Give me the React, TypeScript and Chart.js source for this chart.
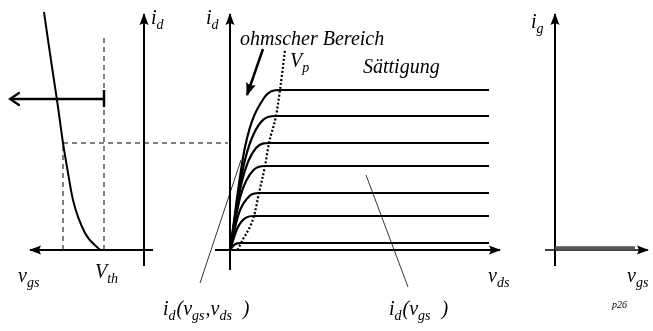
import React, { useEffect, useRef } from 'react';
import { Chart, registerables } from 'chart.js';

Chart.register(...registerables);

// ---- Transfer characteristic i_d(v_gs) (left panel, v_gs grows to the left) ----
const transferVgs = [2.2, 2.95, 3.55, 3.85, 4.05, 4.35, 4.6, 4.85, 5.0];
const transferId = [0, 0.85, 2.5, 4.15, 5.35, 7.5, 9.15, 10.85, 11.9];
const thresholdVoltage = 2.0;
const operatingVgs = 4.05;

// ---- Output characteristic family i_d(v_ds) (middle panel) ----
const satCurrents = [8.0, 6.7, 5.35, 4.2, 2.85, 1.7, 0.35];
const kneeVds = [5.0, 4.6, 3.9, 3.5, 2.9, 2.4, 1.1];
// two sample points of each curve inside the ohmic region
const ohmicLowVds = [1.5, 1.4, 1.2, 1.05, 0.9, 0.75, 0.35];
const ohmicLowId = [5.15, 4.3, 3.45, 2.7, 1.85, 1.1, 0.23];
const ohmicHighVds = [3.4, 3.1, 2.6, 2.35, 1.95, 1.6, 0.7];
const ohmicHighId = [7.6, 6.4, 5.1, 4.0, 2.7, 1.62, 0.33];
const satEndVds = 25.9;
// pinch-off boundary v_ds = v_gs - V_th, running through the knees
const pinchOffVds = [0.75, 1.1, 2.4, 2.9, 3.5, 3.9, 4.6, 5.0, 5.5];
const pinchOffId = [0, 0.35, 1.7, 2.85, 4.2, 5.35, 6.7, 8.0, 10.0];
const operatingCurve = 2;

// ---- Input characteristic i_g(v_gs) (right panel) ----
const gateVgs = [0, 4.0];
const gateCurrent = [0.1, 0.1];

type Run = { t: string; sub?: boolean };
type Label = { xs: string; x: number; y: number; runs: Run[]; size?: number };

const sub = (t: string): Run => ({ t, sub: true });
const txt = (t: string): Run => ({ t });

const labels: Label[] = [
  { xs: 'xL', x: -0.35, y: 11.3, runs: [txt('i'), sub('d')] },
  { xs: 'xL', x: 6.3, y: -1.6, runs: [txt('v'), sub('gs')] },
  { xs: 'xL', x: 2.45, y: -1.4, runs: [txt('V'), sub('th')] },
  { xs: 'xM', x: -2.4, y: 11.3, runs: [txt('i'), sub('d')] },
  { xs: 'xM', x: 1.0, y: 10.25, runs: [txt('ohmscher Bereich')] },
  { xs: 'xM', x: 6.0, y: 9.15, runs: [txt('V'), sub('p')] },
  { xs: 'xM', x: 13.3, y: 8.85, runs: [txt('Sättigung')] },
  { xs: 'xM', x: 25.8, y: -1.6, runs: [txt('v'), sub('ds')] },
  {
    xs: 'xM', x: -6.7, y: -3.25,
    runs: [txt('i'), sub('d'), txt('('), txt('v'), sub('gs'), txt(','), txt('v'), sub('ds'), txt('  )')],
  },
  { xs: 'xM', x: 15.9, y: -3.25, runs: [txt('i'), sub('d'), txt('('), txt('v'), sub('gs'), txt('  )')] },
  { xs: 'xR', x: -1.2, y: 11.1, runs: [txt('i'), sub('g')] },
  { xs: 'xR', x: 3.6, y: -1.6, runs: [txt('v'), sub('gs')] },
  { xs: 'xR', x: 2.85, y: -2.9, runs: [txt('p26')], size: 10 },
];

const FONT = '"Liberation Serif", "DejaVu Serif", serif';

const pts = (xs: number[], ys: number[]) => xs.map((x, i) => ({ x, y: ys[i] }));

// arrow heads at the last point of flagged datasets
const arrowPlugin = {
  id: 'arrowHeads',
  afterDatasetsDraw(chart: any) {
    const ctx = chart.ctx as CanvasRenderingContext2D;
    chart.data.datasets.forEach((ds: any, i: number) => {
      if (!ds.arrow) return;
      const meta = chart.getDatasetMeta(i);
      const n = meta.data.length;
      const tip = meta.data[n - 1];
      const prev = meta.data[n - 2];
      const a = Math.atan2(tip.y - prev.y, tip.x - prev.x);
      ctx.save();
      ctx.translate(tip.x, tip.y);
      ctx.rotate(a);
      ctx.fillStyle = '#000';
      ctx.strokeStyle = '#000';
      if (ds.arrow === 'open') {
        ctx.lineWidth = 2.2;
        ctx.lineCap = 'round';
        ctx.beginPath();
        ctx.moveTo(-9, -6);
        ctx.lineTo(0, 0);
        ctx.lineTo(-9, 6);
        ctx.stroke();
      } else {
        const len = ds.arrowLen || 11;
        const w = ds.arrowWidth || 4.5;
        ctx.beginPath();
        ctx.moveTo(1, 0);
        ctx.lineTo(-len, -w);
        ctx.lineTo(-len + 2, 0);
        ctx.lineTo(-len, w);
        ctx.closePath();
        ctx.fill();
      }
      ctx.restore();
    });
  },
};

// italic labels with subscripts, anchored in data coordinates
const labelPlugin = {
  id: 'richLabels',
  afterDraw(chart: any) {
    const ctx = chart.ctx as CanvasRenderingContext2D;
    const yScale = chart.scales.yI;
    ctx.save();
    ctx.fillStyle = '#000';
    ctx.textBaseline = 'alphabetic';
    ctx.textAlign = 'left';
    labels.forEach((l) => {
      let px = chart.scales[l.xs].getPixelForValue(l.x);
      const py = yScale.getPixelForValue(l.y);
      const main = l.size || 20;
      l.runs.forEach((r) => {
        const size = r.sub ? Math.round(main * 0.72) : main;
        ctx.font = `italic ${size}px ${FONT}`;
        ctx.fillText(r.t, px, py + (r.sub ? 5 : 0));
        px += ctx.measureText(r.t).width + (r.sub ? 1 : 0);
      });
    });
    ctx.restore();
  },
};

const line = (data: any[], xAxisID: string, extra: any = {}) => ({
  data,
  xAxisID,
  yAxisID: 'yI',
  showLine: true,
  borderColor: '#000',
  borderWidth: 2,
  pointRadius: 0,
  fill: false,
  ...extra,
});

export default function App() {
  const canvasRef = useRef<HTMLCanvasElement>(null);

  useEffect(() => {
    if (!canvasRef.current) return;
    const dashed = { borderWidth: 1, borderDash: [5, 4] };
    const satId = satCurrents[operatingCurve];

    const outputCurves = satCurrents.map((I, k) =>
      line(
        [
          { x: 0, y: 0 },
          { x: ohmicLowVds[k], y: ohmicLowId[k] },
          { x: ohmicHighVds[k], y: ohmicHighId[k] },
          { x: kneeVds[k], y: I },
          { x: satEndVds, y: I },
        ],
        'xM',
        { cubicInterpolationMode: 'monotone', borderWidth: 2.2 }
      )
    );

    const gateLine = pts(gateVgs, gateCurrent);

    const datasets: any[] = [
      // left panel
      line([{ x: -0.45, y: 0 }, { x: 5.7, y: 0 }], 'xL', { arrow: 'filled' }),
      line([{ x: 0, y: -0.8 }, { x: 0, y: 11.8 }], 'xL', { arrow: 'filled' }),
      line(pts(transferVgs, transferId), 'xL', { cubicInterpolationMode: 'monotone', borderWidth: 2 }),
      line([{ x: thresholdVoltage, y: 0 }, { x: thresholdVoltage, y: 10.75 }], 'xL', dashed),
      line([{ x: operatingVgs, y: 0 }, { x: operatingVgs, y: satId }], 'xL', dashed),
      line([{ x: operatingVgs, y: satId }, { x: -4.2, y: satId }], 'xL', dashed),
      line([{ x: thresholdVoltage, y: 7.55 }, { x: 6.7, y: 7.55 }], 'xL', { arrow: 'open', borderWidth: 2.4 }),
      line([{ x: thresholdVoltage, y: 8.0 }, { x: thresholdVoltage, y: 7.15 }], 'xL', { borderWidth: 2.4 }),
      // middle panel
      line([{ x: -1.5, y: 0 }, { x: 27, y: 0 }], 'xM', { arrow: 'filled' }),
      line([{ x: 0, y: -1 }, { x: 0, y: 11.8 }], 'xM', { arrow: 'filled' }),
      ...outputCurves,
      line(pts(pinchOffVds, pinchOffId), 'xM', { borderDash: [2, 2], borderWidth: 2.2, cubicInterpolationMode: 'monotone' }),
      line([{ x: 3.3, y: 10.05 }, { x: 1.7, y: 7.75 }], 'xM', { arrow: 'filled', borderWidth: 2.5, arrowLen: 12, arrowWidth: 5 }),
      line([{ x: -3.0, y: -1.65 }, { x: 1.1, y: 4.5 }], 'xM', { borderWidth: 0.8 }),
      line([{ x: 13.6, y: 3.75 }, { x: 17.8, y: -1.85 }], 'xM', { borderWidth: 0.8 }),
      // right panel: i_g stays zero, drawn as a hollow double stroke
      line(gateLine, 'xR', { borderColor: '#555', borderWidth: 3.5 }),
      line(gateLine, 'xR', { borderColor: '#c8c8c8', borderWidth: 1.5 }),
      line([{ x: -0.5, y: 0 }, { x: 4.65, y: 0 }], 'xR', { arrow: 'filled', borderWidth: 1.5 }),
      line([{ x: 0, y: -0.8 }, { x: 0, y: 11.8 }], 'xR', { arrow: 'filled' }),
    ];

    const hidden = { type: 'linear', display: false };
    const chart = new Chart(canvasRef.current, {
      type: 'scatter',
      data: { datasets },
      options: {
        animation: false,
        responsive: false,
        layout: { padding: 0 },
        plugins: { legend: { display: false }, tooltip: { enabled: false } },
        elements: { point: { radius: 0 } },
        scales: {
          xL: { ...hidden, position: 'bottom', reverse: true, min: -25.45, max: 7.2 },
          xM: { ...hidden, position: 'bottom', min: -23, max: 42.3 },
          xR: { ...hidden, position: 'bottom', min: -27.75, max: 4.9 },
          yI: { ...hidden, position: 'left', min: -4.05, max: 12.5 },
        },
      } as any,
      plugins: [arrowPlugin, labelPlugin],
    });
    return () => chart.destroy();
  }, []);

  return (
    <div style={{ position: 'fixed', left: 0, top: 0, width: 653, height: 331, background: '#fff' }}>
      <canvas ref={canvasRef} width={653} height={331} />
    </div>
  );
}
